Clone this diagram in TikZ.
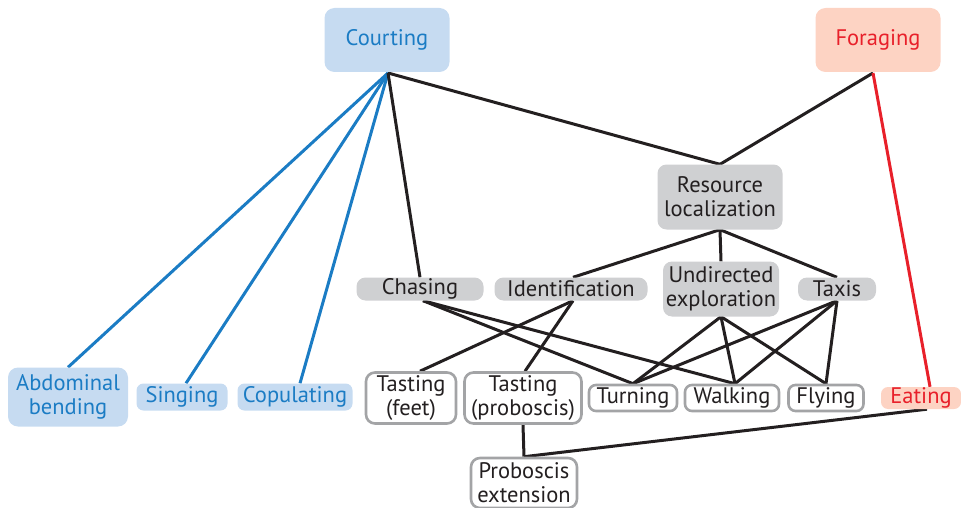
\documentclass[tikz,border=0pt]{standalone}
\usepackage{fontspec}
\setmainfont{PT Sans}
\usetikzlibrary{backgrounds}
\definecolor{cblue}{HTML}{C6DBF1}
\definecolor{tblue}{HTML}{1B7CC4}
\definecolor{lblue}{HTML}{1B7CC4}
\definecolor{cred}{HTML}{FDD3C3}
\definecolor{tred}{HTML}{E8202A}
\definecolor{cgray}{HTML}{CFD0D2}
\definecolor{bgray}{HTML}{A3A4A6}
\definecolor{tdark}{HTML}{231F20}
\tikzset{
  every node/.style={font=\fontsize{22.5}{24}\selectfont, align=center, inner sep=0pt, text=tdark},
  bluebox/.style={fill=cblue, text=tblue, rounded corners=10pt},
  redbox/.style={fill=cred, text=tred, rounded corners=10pt},
  graybox/.style={fill=cgray, rounded corners=9pt},
  whitebox/.style={draw=bgray, line width=2.6pt, fill=white, rounded corners=9pt},
  edge/.style={line width=3pt, draw=tdark},
  bedge/.style={line width=3pt, draw=lblue},
  redge/.style={line width=3pt, draw=tred},
}
\begin{document}
\begin{tikzpicture}[x=1pt,y=-1pt]
\useasboundingbox (0,0) rectangle (961,508);
\clip (0,0) rectangle (961,508);
% top
\node[bluebox, minimum width=125pt, minimum height=64pt] (court) at (387,40) {Courting};
\node[redbox, minimum width=125pt, minimum height=64pt] (forag) at (878,40) {Foraging};
\node[graybox, minimum width=125pt, minimum height=65pt] (resloc) at (720,197) {Resource\\localization};
% middle
\node[graybox, minimum width=127pt, minimum height=23pt] (chase) at (420,289) {Chasing};
\node[graybox, minimum width=153pt, minimum height=23pt] (ident) at (571,289) {Identification};
\node[graybox, minimum width=116pt, minimum height=55pt] (undir) at (721,289) {Undirected\\exploration};
\node[graybox, minimum width=78pt, minimum height=23pt] (taxis) at (837,289) {Taxis};
% bottom
\node[bluebox, minimum width=120pt, minimum height=59pt] (abdo) at (68,397) {Abdominal\\bending};
\node[bluebox, minimum width=91pt, minimum height=27pt, rounded corners=7pt] (sing) at (182,397) {Singing};
\node[bluebox, minimum width=115pt, minimum height=27pt, rounded corners=7pt] (copu) at (295,397) {Copulating};
\node[whitebox, minimum width=90pt, minimum height=51pt] (tfeet) at (411,398) {Tasting\\(feet)};
\node[whitebox, minimum width=117pt, minimum height=51pt] (tprob) at (523,398) {Tasting\\(proboscis)};
\node[whitebox, minimum width=88pt, minimum height=26pt, rounded corners=7pt] (turn) at (633,398) {Turning};
\node[whitebox, minimum width=94pt, minimum height=26pt, rounded corners=7pt] (walk) at (732,398) {Walking};
\node[whitebox, minimum width=75pt, minimum height=26pt, rounded corners=7pt] (fly) at (826,398) {Flying};
\node[redbox, minimum width=80pt, minimum height=22pt, rounded corners=7pt] (eat) at (921,398) {Eating};
\node[whitebox, minimum width=106pt, minimum height=50pt] (pext) at (524,483) {Proboscis\\extension};
\begin{pgfonlayer}{background}
\coordinate (cs) at (388,73);
\coordinate (fs) at (873,73);
\draw[bedge] (cs) -- (abdo.north);
\draw[bedge] (cs) -- ([xshift=4pt]sing.north);
\draw[bedge] (cs) -- ([xshift=5pt]copu.north);
\draw[edge] (cs) -- (chase.north);
\draw[edge] (cs) -- (resloc.north);
\draw[edge] (fs) -- (resloc.north);
\draw[redge] (fs) -- ([xshift=9pt]eat.north);
\draw[edge] (resloc.south) -- ([xshift=2pt]ident.north);
\draw[edge] (resloc.south) -- (undir.north);
\draw[edge] (resloc.south) -- (taxis.north);
\draw[edge] ([xshift=3pt]chase.south) -- (turn.north);
\draw[edge] ([xshift=3pt]chase.south) -- ([xshift=3pt]walk.north);
\draw[edge] ([xshift=2pt]ident.south) -- ([xshift=9pt]tfeet.north);
\draw[edge] ([xshift=2pt]ident.south) -- ([xshift=2pt]tprob.north);
\draw[edge] (undir.south) -- (turn.north);
\draw[edge] (undir.south) -- ([xshift=3pt]walk.north);
\draw[edge] (undir.south) -- (fly.north);
\draw[edge] (taxis.south) -- (turn.north);
\draw[edge] (taxis.south) -- ([xshift=3pt]walk.north);
\draw[edge] (taxis.south) -- (fly.north);
\draw[edge] (tprob.south) -- (pext.north);
\draw[edge] ([xshift=6pt]eat.south) -- (pext.north);
\end{pgfonlayer}
\end{tikzpicture}
\end{document}
